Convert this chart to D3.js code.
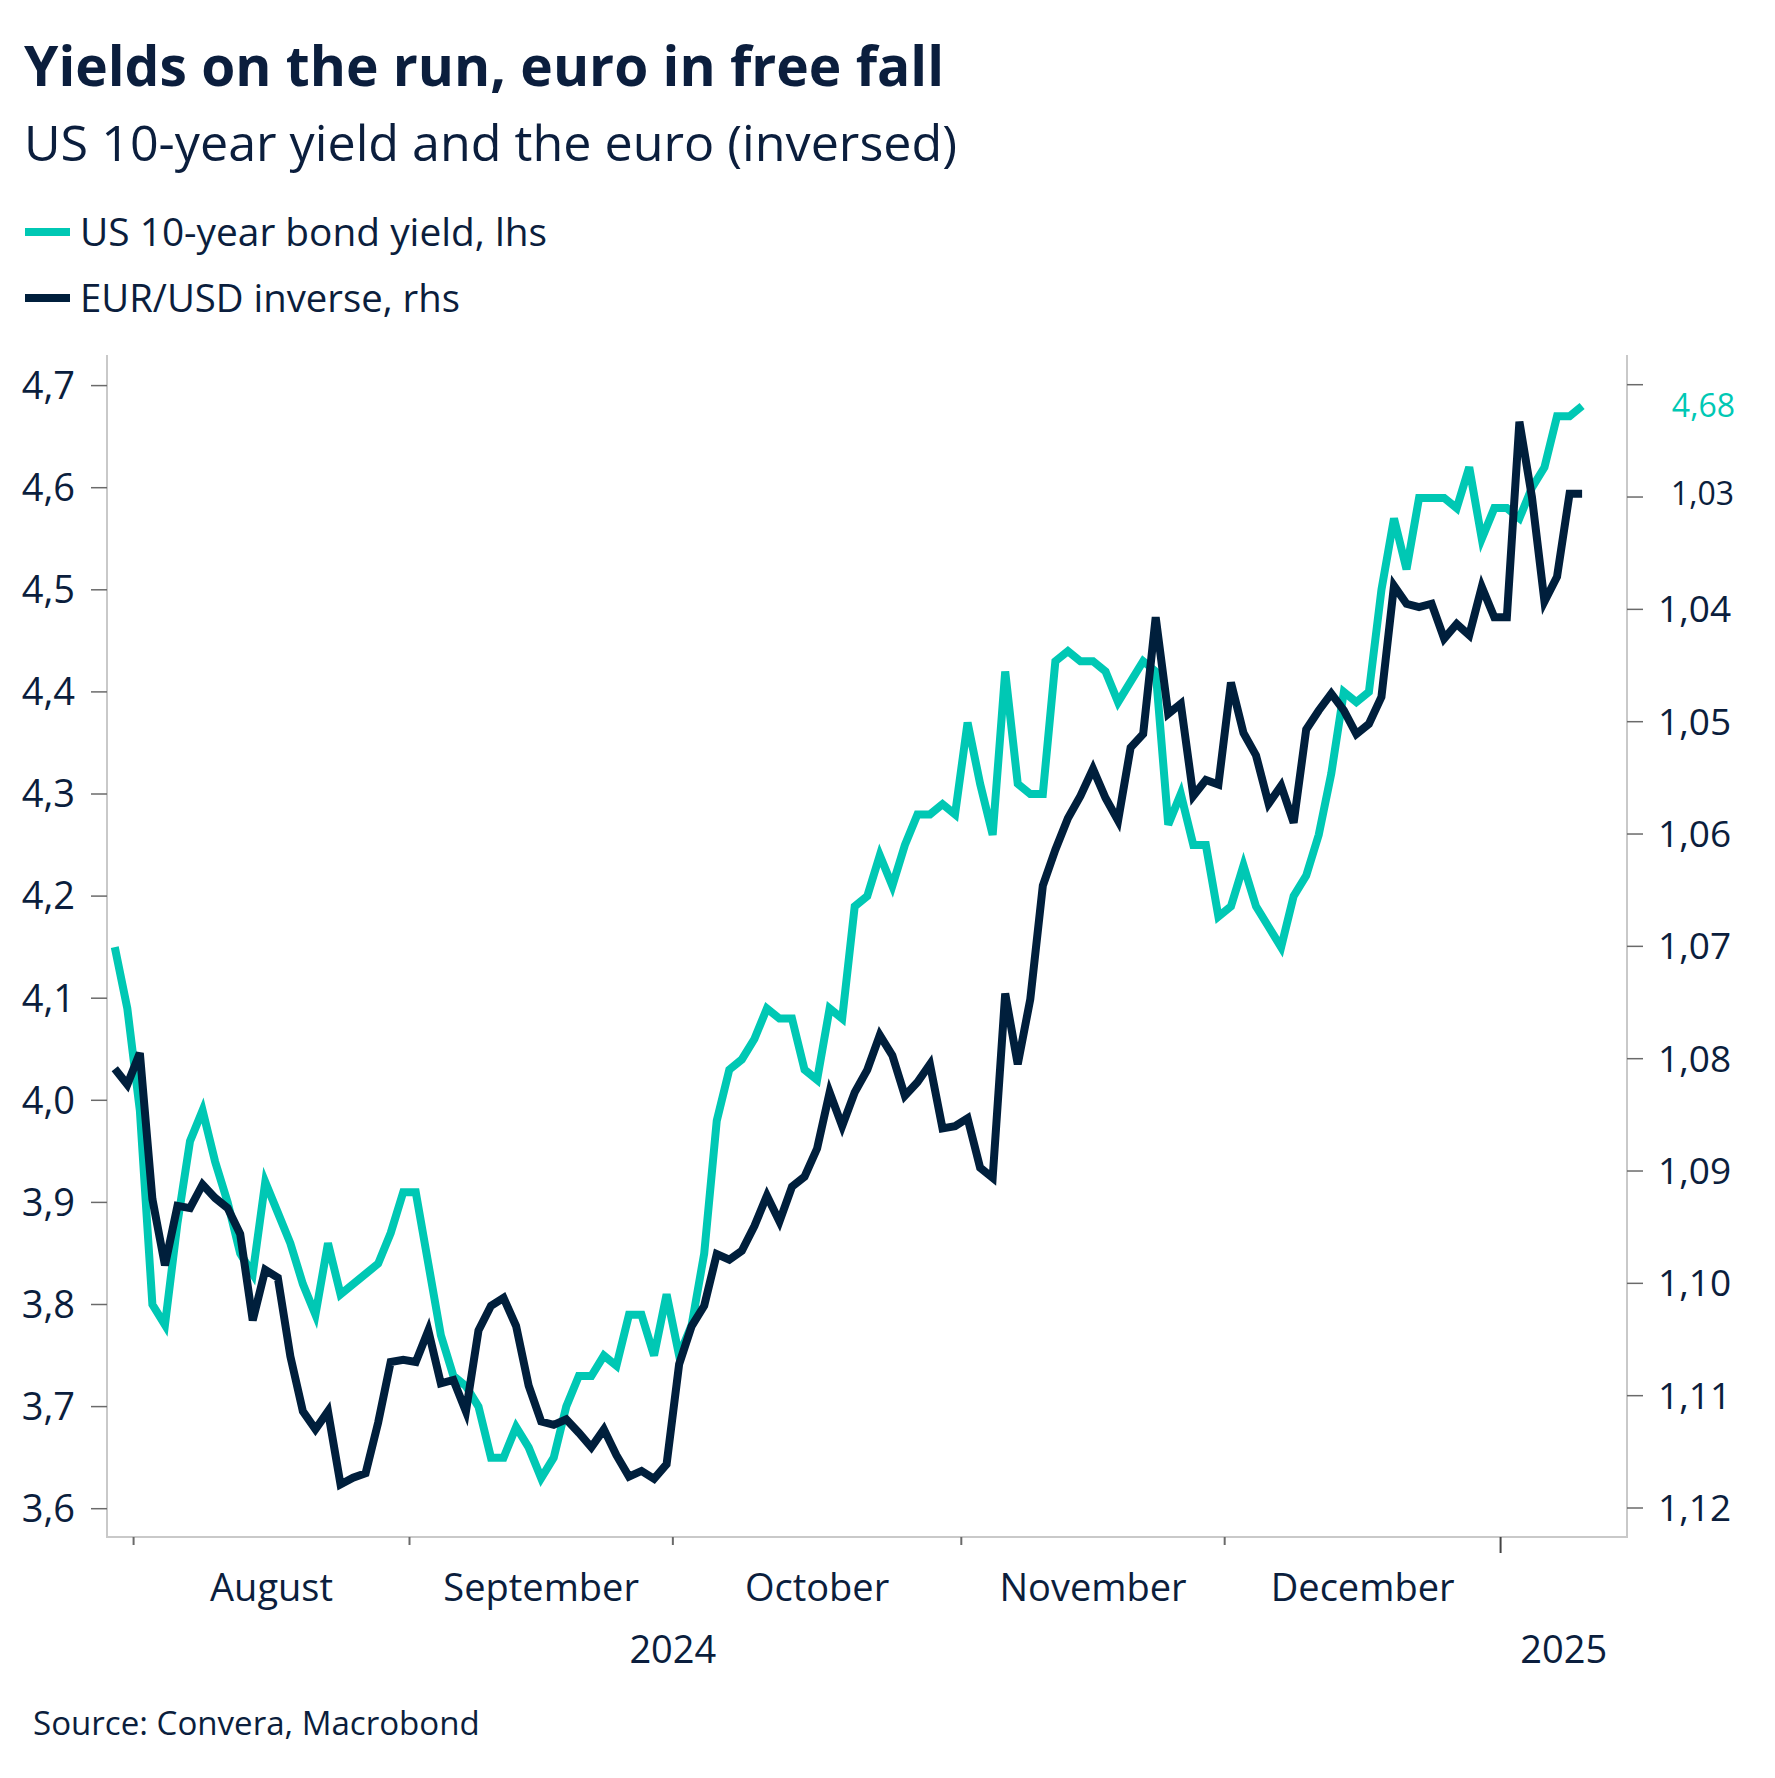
<!DOCTYPE html>
<html>
<head>
<meta charset="utf-8">
<script src="https://cdn.jsdelivr.net/npm/d3@7"></script>
<style>
  body { margin: 0; background: #ffffff; }
  text { font-family: "Open Sans", "Noto Sans", sans-serif; }
</style>
</head>
<body>
<svg id="chart" width="1775" height="1778"></svg>
<script>
// ---------------- DATA ----------------
// Business-day (Mon-Fri) axis from 30 Jul 2024 to 9 Jan 2025
const startDate = "2024-07-30";
const endDate = "2025-01-09";

// US 10-year bond yield, % (lhs)
const us10y = [
  4.15, 4.09, 3.99, 3.80, 3.78, 3.88, 3.96, 3.99, 3.94, 3.90,
  3.85, 3.83, 3.92, 3.89, 3.86, 3.82, 3.79, 3.86, 3.81, 3.82,
  3.83, 3.84, 3.87, 3.91, 3.91, 3.84, 3.77, 3.73, 3.72, 3.70,
  3.65, 3.65, 3.68, 3.66, 3.63, 3.65, 3.70, 3.73, 3.73, 3.75,
  3.74, 3.79, 3.79, 3.75, 3.81, 3.75, 3.78, 3.85, 3.98, 4.03,
  4.04, 4.06, 4.09, 4.08, 4.08, 4.03, 4.02, 4.09, 4.08, 4.19,
  4.20, 4.24, 4.21, 4.25, 4.28, 4.28, 4.29, 4.28, 4.37, 4.31,
  4.26, 4.42, 4.31, 4.30, 4.30, 4.43, 4.44, 4.43, 4.43, 4.42,
  4.39, 4.41, 4.43, 4.42, 4.27, 4.30, 4.25, 4.25, 4.18, 4.19,
  4.23, 4.19, 4.17, 4.15, 4.20, 4.22, 4.26, 4.32, 4.40, 4.39,
  4.40, 4.50, 4.57, 4.52, 4.59, 4.59, 4.59, 4.58, 4.62, 4.55,
  4.58, 4.58, 4.57, 4.60, 4.62, 4.67, 4.67, 4.68
];

// EUR/USD (rhs, inverted axis)
const eurusd = [
  1.0809, 1.0823, 1.0795, 1.0925, 1.0984, 1.0931, 1.0933, 1.0912, 1.0924, 1.0933,
  1.0956, 1.1033, 1.0988, 1.0995, 1.1065, 1.1114, 1.1130, 1.1114, 1.1179, 1.1173,
  1.1169, 1.1124, 1.1070, 1.1068, 1.1070, 1.1042, 1.1089, 1.1086, 1.1114, 1.1042,
  1.1020, 1.1013, 1.1038, 1.1091, 1.1123, 1.1126, 1.1121, 1.1133, 1.1146, 1.1130,
  1.1153, 1.1172, 1.1167, 1.1174, 1.1161, 1.1072, 1.1038, 1.1020, 1.0974, 1.0979,
  1.0971, 1.0949, 1.0922, 1.0945, 1.0914, 1.0905, 1.0880, 1.0830, 1.0860, 1.0830,
  1.0810, 1.0779, 1.0797, 1.0833, 1.0821, 1.0805, 1.0862, 1.0860, 1.0853, 1.0897,
  1.0906, 1.0742, 1.0805, 1.0747, 1.0646, 1.0614, 1.0586, 1.0566, 1.0542, 1.0568,
  1.0588, 1.0523, 1.0511, 1.0407, 1.0493, 1.0484, 1.0566, 1.0552, 1.0556, 1.0465,
  1.0510, 1.0530, 1.0573, 1.0557, 1.0590, 1.0507, 1.0490, 1.0475, 1.0490, 1.0511,
  1.0502, 1.0478, 1.0379, 1.0395, 1.0398, 1.0395, 1.0426, 1.0413, 1.0423, 1.0380,
  1.0407, 1.0407, 1.0233, 1.0300, 1.0393, 1.0371, 1.0297, 1.0297
];

const leftTicks = [3.6, 3.7, 3.8, 3.9, 4.0, 4.1, 4.2, 4.3, 4.4, 4.5, 4.6, 4.7];
const rightTicks = [1.02, 1.03, 1.04, 1.05, 1.06, 1.07, 1.08, 1.09, 1.10, 1.11, 1.12];
const rightTickLabels = [1.04, 1.05, 1.06, 1.07, 1.08, 1.09, 1.10, 1.11, 1.12];
const monthNames = ["August", "September", "October", "November", "December"];
const yearLabels = ["2024", "2025"];

const titleText = "Yields on the run, euro in free fall";
const subtitleText = "US 10-year yield and the euro (inversed)";
const legendLabels = ["US 10-year bond yield, lhs", "EUR/USD inverse, rhs"];
const sourceText = "Source: Convera, Macrobond";

// ---------------- STYLE ----------------
const TEAL = "#00c8b4";
const NAVY = "#001f3c";
const TEXT = "#0b1e3d";
const FRAME = "#c9c9c9";
const TICK = "#6a6a6a";

const svg = d3.select("#chart");

// dates (business days)
const parse = d3.timeParse("%Y-%m-%d");
const dates = d3.timeDay.range(parse(startDate), d3.timeDay.offset(parse(endDate), 1))
  .filter(d => d.getDay() !== 0 && d.getDay() !== 6);

// plot frame
const plot = { left: 107, right: 1627, top: 355, bottom: 1537 };

const x = d3.scaleLinear().domain([-0.62, 120.58]).range([plot.left, plot.right]);
const yL = d3.scaleLinear().domain([3.6, 4.7]).range([1508.7, 385.6]);
const yR = d3.scaleLinear().domain([1.12, 1.02]).range([1508.0, 384.7]);

function fit(sel, w) {
  const cur = sel.node().getComputedTextLength();
  const fs = parseFloat(sel.attr("font-size"));
  sel.attr("font-size", (fs * w / cur).toFixed(2));
  return sel;
}

// ---------------- TITLES ----------------
fit(svg.append("text").attr("x", 24).attr("y", 86).attr("font-size", 56)
  .attr("font-weight", 700).attr("fill", TEXT).text(titleText), 920);
fit(svg.append("text").attr("x", 24).attr("y", 161).attr("font-size", 44)
  .attr("fill", TEXT).text(subtitleText), 933);

// ---------------- LEGEND ----------------
const legendRows = [
  { label: legendLabels[0], color: TEAL, y: 232, w: 467 },
  { label: legendLabels[1], color: NAVY, y: 298, w: 380 }
];
legendRows.forEach(r => {
  svg.append("line").attr("x1", 25).attr("x2", 70).attr("y1", r.y).attr("y2", r.y)
    .attr("stroke", r.color).attr("stroke-width", 8);
  fit(svg.append("text").attr("x", 80).attr("y", r.y + 14).attr("font-size", 36)
    .attr("fill", TEXT).text(r.label), r.w);
});

// ---------------- FRAME ----------------
svg.append("path")
  .attr("d", `M${plot.left},${plot.top}V${plot.bottom}H${plot.right}V${plot.top}`)
  .attr("fill", "none").attr("stroke", FRAME).attr("stroke-width", 2);

// left axis
const gL = svg.append("g");
leftTicks.forEach(v => {
  gL.append("line").attr("x1", 91).attr("x2", plot.left).attr("y1", yL(v)).attr("y2", yL(v))
    .attr("stroke", TICK).attr("stroke-width", 1.5);
  gL.append("text").attr("x", 75).attr("y", yL(v)).attr("dy", "0.35em")
    .attr("text-anchor", "end").attr("font-size", 38).attr("fill", TEXT).text(v.toFixed(1).replace(".", ","));
});

// right axis
const gR = svg.append("g");
rightTicks.forEach(v => {
  gR.append("line").attr("x1", plot.right).attr("x2", plot.right + 16).attr("y1", yR(v)).attr("y2", yR(v))
    .attr("stroke", TICK).attr("stroke-width", 1.5);
});
rightTickLabels.forEach(v => {
  gR.append("text").attr("x", 1658).attr("y", yR(v)).attr("dy", "0.35em")
    .attr("font-size", 37).attr("fill", TEXT).text(v.toFixed(2).replace(".", ","));
});

// last-value labels
const lastG = us10y[us10y.length - 1];
const lastE = eurusd[eurusd.length - 1];
svg.append("text").attr("x", 1735).attr("y", yL(lastG)).attr("dy", "0.35em")
  .attr("text-anchor", "end").attr("font-size", 32).attr("fill", TEAL)
  .text(lastG.toFixed(2).replace(".", ","));
svg.append("text").attr("x", 1734).attr("y", yR(lastE)).attr("dy", "0.35em")
  .attr("text-anchor", "end").attr("font-size", 32).attr("fill", TEXT)
  .text(lastE.toFixed(2).replace(".", ","));

// ---------------- X AXIS ----------------
const monthStarts = [];
dates.forEach((d, i) => {
  if (i > 0 && d.getMonth() !== dates[i - 1].getMonth()) monthStarts.push({ i: i - 0.5, d });
});
const gX = svg.append("g");
monthStarts.forEach(m => {
  const isYear = m.d.getMonth() === 0;
  gX.append("line").attr("x1", x(m.i)).attr("x2", x(m.i))
    .attr("y1", plot.bottom).attr("y2", plot.bottom + (isYear ? 16 : 8))
    .attr("stroke", isYear ? "#444" : TICK).attr("stroke-width", 2);
});
for (let k = 0; k < monthNames.length; k++) {
  const cx = (x(monthStarts[k].i) + x(monthStarts[k + 1].i)) / 2;
  gX.append("text").attr("x", cx).attr("y", 1601).attr("text-anchor", "middle")
    .attr("font-size", 38).attr("fill", TEXT).text(monthNames[k]);
}
// year labels
const octTick = monthStarts.find(m => m.d.getMonth() === 9);
const janTick = monthStarts.find(m => m.d.getMonth() === 0);
gX.append("text").attr("x", x(octTick.i)).attr("y", 1663).attr("text-anchor", "middle")
  .attr("font-size", 38).attr("fill", TEXT).text(yearLabels[0]);
gX.append("text").attr("x", (x(janTick.i) + plot.right) / 2).attr("y", 1663).attr("text-anchor", "middle")
  .attr("font-size", 38).attr("fill", TEXT).text(yearLabels[1]);

// ---------------- LINES ----------------
const lineG = d3.line().x((d, i) => x(i)).y(d => yL(d));
const lineE = d3.line().x((d, i) => x(i)).y(d => yR(d));
svg.append("path").datum(us10y).attr("d", lineG).attr("fill", "none")
  .attr("stroke", TEAL).attr("stroke-width", 8).attr("stroke-linejoin", "miter");
svg.append("path").datum(eurusd).attr("d", lineE).attr("fill", "none")
  .attr("stroke", NAVY).attr("stroke-width", 8).attr("stroke-linejoin", "miter");

// ---------------- SOURCE ----------------
fit(svg.append("text").attr("x", 33).attr("y", 1735).attr("font-size", 33)
  .attr("fill", TEXT).text(sourceText), 447);
</script>
</body>
</html>
